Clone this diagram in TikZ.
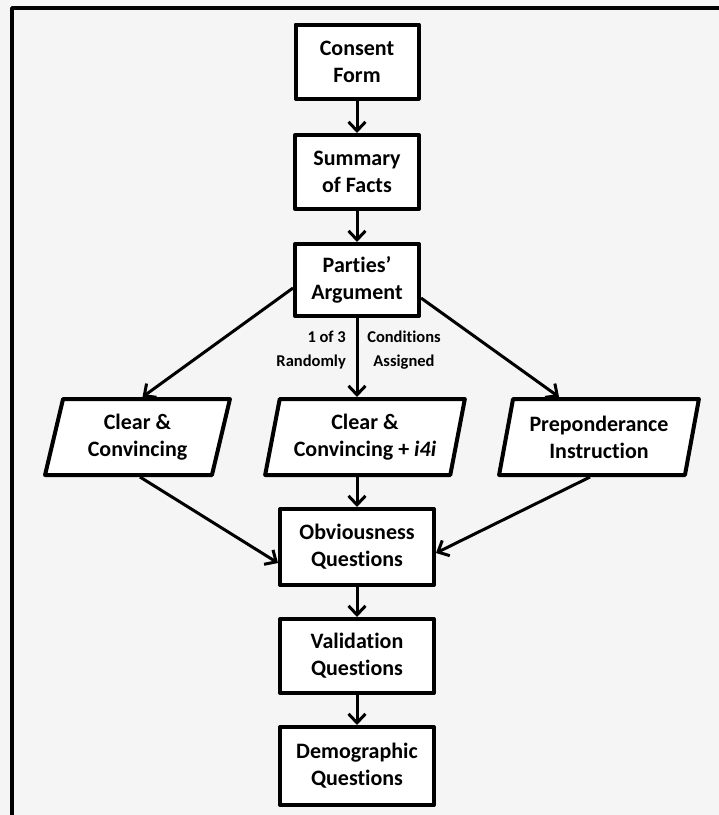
\documentclass[tikz,border=0pt]{standalone}
\usepackage{fontspec}
\setmainfont[Ligatures={TeX,NoCommon}]{Carlito}
\usetikzlibrary{arrows.meta,shapes.geometric}
\definecolor{fondo}{HTML}{F5F5F5}

\begin{document}
\begin{tikzpicture}[x=1pt, y=-1pt, line join=round, >={Straight Barb[length=9pt,width=17pt]}]
  % Fondo y marco exterior
  \useasboundingbox (0,0) rectangle (719,815);
  \clip (0,0) rectangle (719,815);
  \fill[fondo] (0,0) rectangle (719,815);
  \draw[line width=3.5pt] (12,8) rectangle (740,840);

  % Estilos para cajas, paralelogramos y flechas
  \tikzset{caja/.style={draw, line width=4pt, fill=white, align=center, inner sep=2pt,
      minimum width=123pt, minimum height=74pt, font=\fontsize{22}{27}\selectfont\bfseries}}
  \tikzset{cajaancha/.style={caja, minimum width=154pt, minimum height=76pt}}
  \tikzset{parale/.style={trapezium, trapezium left angle=76, trapezium right angle=104,
      trapezium stretches=true, draw, line width=4pt, fill=white, align=center, inner sep=2pt,
      minimum width=200pt, minimum height=76pt, font=\fontsize{22}{27}\selectfont\bfseries}}
  \tikzset{flecha/.style={->, line width=3pt}}
  \tikzset{nota/.style={inner sep=0pt, font=\fontsize{16.5}{24}\selectfont\bfseries}}

  % Pasos iniciales
  \node[caja] (consent) at (357,61.5) {Consent\\Form};
  \node[caja, minimum width=124pt] (summary) at (357,172) {Summary\\of Facts};
  \node[caja, minimum width=124pt, minimum height=72pt] (parties) at (357,280) {Parties’\\Argument};

  % Las tres condiciones
  \node[parale, minimum width=185pt] (clear) at (137.5,437) {Clear \&\\Convincing};
  \node[parale] (cci) at (365,437) {Clear \&\\Convincing + \textit{i4i}};
  \node[parale] (prep) at (599,437) {Preponderance\\Instruction};

  % Preguntas finales
  \node[cajaancha] (obv) at (357,547) {Obviousness\\Questions};
  \node[cajaancha, minimum height=74pt] (valid) at (357,656) {Validation\\Questions};
  \node[cajaancha, minimum height=78pt] (demo) at (357,766) {Demographic\\Questions};

  % Texto de asignacion
  \node[nota, anchor=north east, align=right] (azar) at (346,331) {1 of 3\\Randomly};
  \node[nota, anchor=north, align=center] (asignadas) at (404,331) {Conditions\\Assigned};

  % Flechas
  \draw[flecha] (consent) -- (summary);
  \draw[flecha] (summary) -- (parties);
  \draw[flecha] ([yshift=-8pt]parties.west) -- ([xshift=5pt]clear.north);
  \draw[flecha] (parties) -- (parties |- cci.north);
  \draw[flecha] ([yshift=-18pt]parties.east) -- ([xshift=-40pt]prep.north);
  \draw[flecha] ([xshift=2.5pt]clear.south) -- ([yshift=-16pt]obv.west);
  \draw[flecha] (obv |- cci.south) -- (obv.north);
  \draw[flecha] ([xshift=-9pt]prep.south) -- ([yshift=-6pt]obv.east);
  \draw[flecha] (obv) -- (valid);
  \draw[flecha] (valid) -- (demo);
\end{tikzpicture}
\end{document}
